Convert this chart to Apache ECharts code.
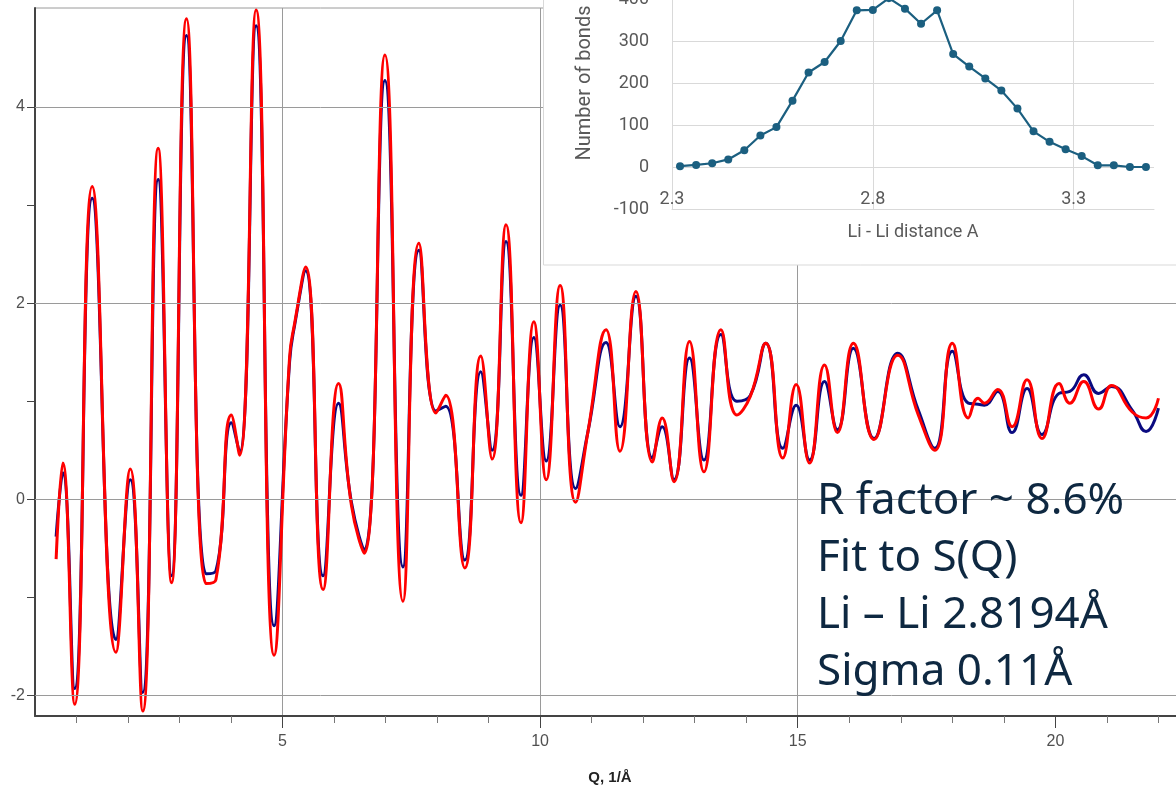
<!DOCTYPE html>
<html>
<head>
<meta charset="utf-8">
<script src="https://cdn.jsdelivr.net/npm/echarts@6/dist/echarts.min.js"></script>
<style>
  html, body { margin: 0; padding: 0; background: #fff; }
  #chart { width: 1176px; height: 786px; }
</style>
</head>
<body>
<div id="chart"></div>
<script>
// S(Q) curves (Q in 1/Å)
const qValues = [
  0.61, 0.74, 0.97, 1.31, 1.77, 2.05, 2.29, 2.59, 2.85, 3.14,
  3.52, 3.71, 4.01, 4.17, 4.49, 4.84, 5.14, 5.24, 5.45, 5.79,
  6.09, 6.34, 6.59, 6.99, 7.34, 7.65, 7.98, 8.17, 8.54, 8.85,
  9.07, 9.34, 9.63, 9.88, 10.12, 10.39, 10.69, 10.93, 11.28, 11.55,
  11.86, 12.18, 12.37, 12.60, 12.90, 13.18, 13.51, 13.82, 14.08, 14.38,
  14.71, 14.97, 15.23, 15.52, 15.77, 16.08, 16.48, 16.94, 17.34, 17.66,
  18.00, 18.31, 18.50, 18.62, 18.88, 19.16, 19.45, 19.74, 20.07, 20.28,
  20.55, 20.84, 21.09, 21.49, 21.76, 22.00
]
const sqData = [
  -0.38, 0.27, -1.93, 3.07, -1.43, 0.20, -1.97, 3.26, -0.78, 4.73,
  -0.76, -0.73, 0.78, 0.48, 4.83, -1.29, 1.40, 1.78, 2.33, -0.78,
  0.98, -0.03, -0.52, 4.27, -0.69, 2.54, 0.90, 0.95, -0.62, 1.30,
  0.50, 2.63, 0.04, 1.65, 0.39, 1.98, 0.11, 0.69, 1.60, 0.74,
  2.07, 0.42, 0.74, 0.20, 1.44, 0.40, 1.68, 1.00, 1.06, 1.59,
  0.52, 0.96, 0.40, 1.20, 0.71, 1.54, 0.62, 1.49, 0.91, 0.52,
  1.51, 0.98, 0.97, 0.96, 1.10, 0.68, 1.13, 0.66, 1.08, 1.10,
  1.27, 1.08, 1.15, 0.91, 0.69, 0.93
]
const sqFit = [
  -0.61, 0.37, -2.09, 3.19, -1.56, 0.31, -2.16, 3.58, -0.85, 4.90,
  -0.86, -0.82, 0.86, 0.45, 4.99, -1.59, 1.45, 1.80, 2.37, -0.92,
  1.18, -0.06, -0.55, 4.53, -1.04, 2.61, 0.88, 1.06, -0.70, 1.46,
  0.41, 2.80, -0.24, 1.81, 0.20, 2.18, -0.03, 0.69, 1.73, 0.49,
  2.12, 0.38, 0.83, 0.18, 1.61, 0.28, 1.73, 0.86, 1.05, 1.59,
  0.42, 1.17, 0.37, 1.37, 0.68, 1.59, 0.61, 1.47, 0.86, 0.50,
  1.59, 0.83, 1.03, 0.98, 1.12, 0.74, 1.22, 0.62, 1.18, 0.98,
  1.20, 0.92, 1.16, 0.89, 0.83, 1.03
]
const qMajorTicks = [5, 10, 15, 20]
const qMinorTicks = [1, 2, 3, 4, 6, 7, 8, 9, 11, 12, 13, 14, 16, 17, 18, 19, 21, 22]
const sqLabels = [-2, 0, 2, 4]
const sqTicks = [-2, -1, 0, 1, 2, 3, 4]

// inset: Li - Li bond length histogram
const bondDistance = [
  2.32, 2.36, 2.40, 2.44, 2.48, 2.52, 2.56, 2.60, 2.64, 2.68,
  2.72, 2.76, 2.80, 2.84, 2.88, 2.92, 2.96, 3.00, 3.04, 3.08,
  3.12, 3.16, 3.20, 3.24, 3.28, 3.32, 3.36, 3.40, 3.44, 3.48
]
const bondCount = [
  2, 5, 9, 18, 40, 75, 95, 158, 225, 250,
  300, 373, 374, 402, 377, 341, 373, 269, 239, 211,
  182, 139, 85, 60, 42, 26, 4, 4, 0, 0
]

const noteLines = ['R factor ~ 8.6%', 'Fit to S(Q)', 'Li – Li 2.8194Å', 'Sigma 0.11Å']

const axisFont = { color: '#505050', fontSize: 16, fontFamily: 'Liberation Sans' }
const insetFont = { color: '#595959', fontSize: 18, fontFamily: 'Roboto' }

const option = {
  animation: false,
  title: [
    {
      text: 'Q, 1/Å',
      left: 605,
      top: 765,
      textAlign: 'center',
      textStyle: { fontSize: 15, fontWeight: 'bold', color: '#222', fontFamily: 'Liberation Sans' }
    },
    {
      text: noteLines.join('\n'),
      left: 812,
      top: 468,
      z: 8,
      textStyle: { fontSize: 44, lineHeight: 57, fontWeight: 'normal', color: '#0e2841', fontFamily: 'Noto Sans' }
    }
  ],
  graphic: [
    {
      type: 'rect',
      z: 50,
      shape: { x: 543.5, y: -10, width: 700, height: 275 },
      style: { fill: '#fff', stroke: '#d9d9d9', lineWidth: 1 }
    }
  ],
  grid: [
    {
      left: 35, right: -34, top: 8, bottom: 70,
      outerBoundsMode: 'none',
      show: true, borderColor: '#9a9a9a', borderWidth: 1
    },
    { left: 672, right: 22, top: -43, bottom: 577, outerBoundsMode: 'none' }
  ],
  xAxis: [
    {
      type: 'value', gridIndex: 0, position: 'bottom', min: 0.2, max: 23,
      axisLine: { onZero: false, lineStyle: { color: '#444', width: 2 } },
      axisTick: { customValues: qMajorTicks, length: 12, lineStyle: { color: '#444' } },
      axisLabel: { customValues: qMajorTicks, margin: 18, ...axisFont },
      splitLine: { show: true, showMinLine: true, showMaxLine: false, lineStyle: { color: '#9a9a9a' } }
    },
    {
      type: 'value', gridIndex: 0, position: 'bottom', min: 0.2, max: 23,
      axisLine: { show: false, onZero: false },
      axisTick: { customValues: qMinorTicks, length: 7, lineStyle: { color: '#777' } },
      axisLabel: { show: false },
      splitLine: { show: false }
    },
    {
      type: 'value', gridIndex: 1, min: 2.3, max: 3.5, interval: 0.5, z: 60,
      name: 'Li - Li distance A', nameLocation: 'middle', nameGap: 14,
      nameTextStyle: insetFont,
      axisLine: { onZero: false, lineStyle: { color: '#d9d9d9' } },
      axisTick: { show: false },
      axisLabel: { inside: true, margin: 1, showMaxLabel: false, ...insetFont },
      splitLine: { show: true, showMaxLine: false, lineStyle: { color: '#d9d9d9' } }
    }
  ],
  yAxis: [
    {
      type: 'value', gridIndex: 0, min: -2.21, max: 5.01,
      axisLine: { show: true, onZero: false, lineStyle: { color: '#444', width: 2 } },
      axisTick: { customValues: sqTicks, length: 8, lineStyle: { color: '#444' } },
      axisLabel: { customValues: sqLabels, margin: 10, ...axisFont },
      splitLine: { show: false }
    },
    {
      type: 'value', gridIndex: 1, min: -100, max: 500, interval: 100, z: 60,
      name: 'Number of bonds', nameLocation: 'middle', nameRotate: 90, nameGap: 77,
      nameTextStyle: { ...insetFont, fontSize: 20 },
      axisLine: { show: false },
      axisTick: { show: false },
      axisLabel: { margin: 23, ...insetFont },
      splitLine: { show: true, lineStyle: { color: '#d9d9d9' } }
    }
  ],
  series: [
    {
      // horizontal grid lines of the main plot at the labelled values
      name: 'grid',
      type: 'line',
      xAxisIndex: 0,
      yAxisIndex: 0,
      data: [],
      z: 1,
      silent: true,
      markLine: {
        silent: true,
        symbol: 'none',
        label: { show: false },
        lineStyle: { color: '#9a9a9a', width: 1, type: 'solid' },
        data: sqLabels.map(v => ({ yAxis: v }))
      }
    },
    {
      name: 'S(Q)',
      type: 'line',
      xAxisIndex: 0,
      yAxisIndex: 0,
      smooth: true,
      showSymbol: false,
      z: 3,
      lineStyle: { color: '#0a0a80', width: 3 },
      data: qValues.map((q, i) => [q, sqData[i]])
    },
    {
      name: 'Fit',
      type: 'line',
      xAxisIndex: 0,
      yAxisIndex: 0,
      smooth: true,
      showSymbol: false,
      z: 4,
      lineStyle: { color: '#ff0000', width: 3 },
      data: qValues.map((q, i) => [q, sqFit[i]])
    },
    {
      name: 'Li - Li',
      type: 'line',
      xAxisIndex: 2,
      yAxisIndex: 1,
      z: 61,
      symbol: 'circle',
      symbolSize: 8,
      itemStyle: { color: '#1b5f80' },
      lineStyle: { color: '#1b5f80', width: 2.2 },
      data: bondDistance.map((d, i) => [d, bondCount[i]])
    }
  ]
}

const chart = echarts.init(document.getElementById('chart'), null, { renderer: 'canvas' })
chart.setOption(option)
</script>
</body>
</html>
